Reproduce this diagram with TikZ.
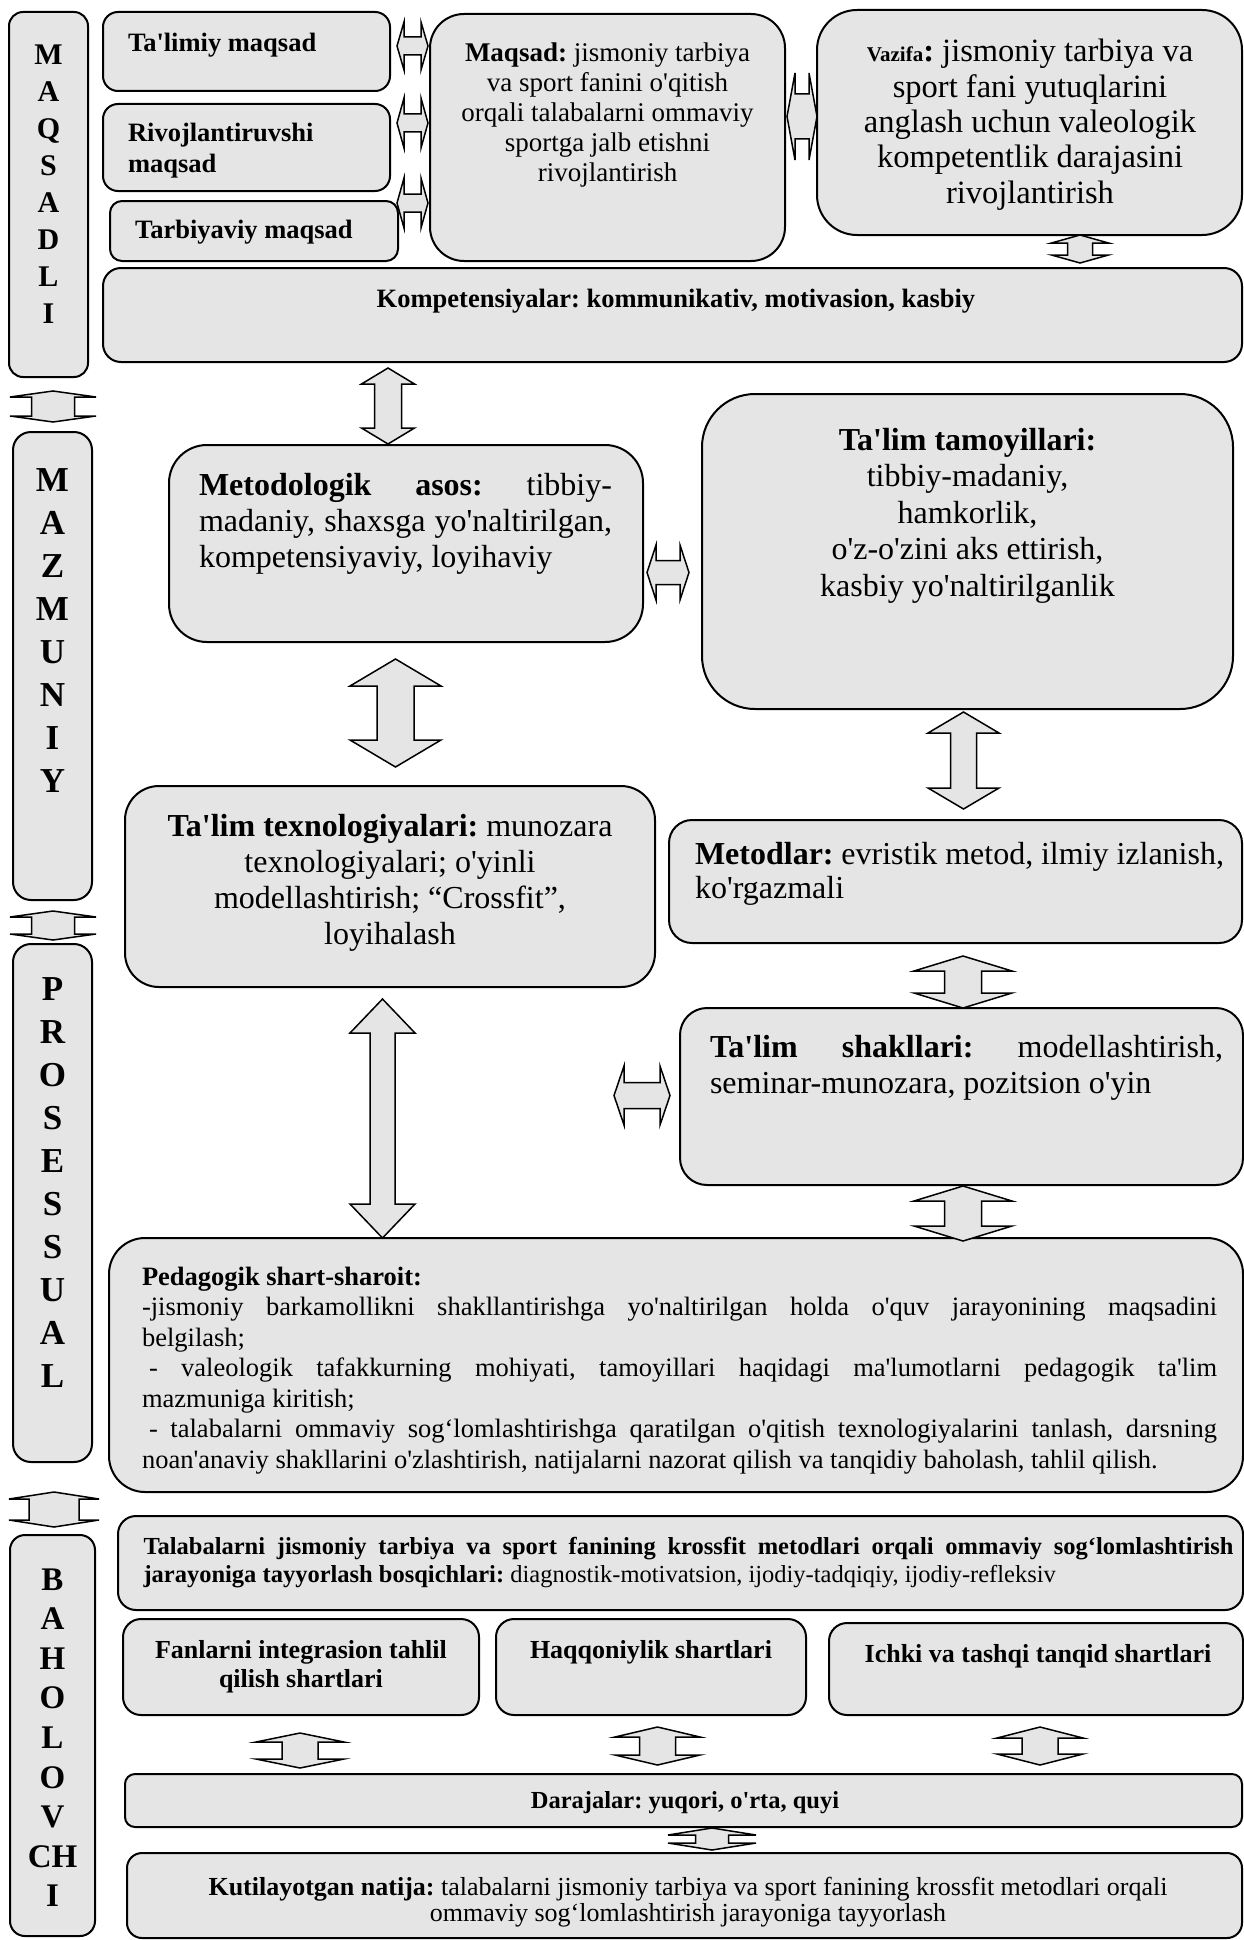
\documentclass[tikz,border=0pt]{standalone}
\usepackage{fontspec}
\newfontfamily\tnr{Liberation Serif}
\definecolor{boxgray}{RGB}{229,229,229}
\newcommand\setfs[2]{\tnr\fontsize{#1}{#2}\selectfont}
\newcommand\nsp{\spaceskip=0pt\xspaceskip=0pt\frenchspacing}
\newcommand\csp{\spaceskip=.25em\relax\xspaceskip=0pt\frenchspacing}
\newcommand\jline[2]{\makebox[#1pt][s]{\nsp #2}}
\newcommand\mybox[6]{\node[box, rounded corners=#6pt, minimum width={#4-#2}, minimum height={#5-#3}, anchor=north west] (#1) at (#2,#3) {};}
% vertical double block arrow: cx, ytop, ybot, head half width, shaft half width, head length
\newcommand\varr[6]{\draw[barrow] ({#1},{#2}) -- ({#1+#4},{#2+#6}) -- ({#1+#5},{#2+#6}) -- ({#1+#5},{#3-#6}) -- ({#1+#4},{#3-#6}) -- ({#1},{#3}) -- ({#1-#4},{#3-#6}) -- ({#1-#5},{#3-#6}) -- ({#1-#5},{#2+#6}) -- ({#1-#4},{#2+#6}) -- cycle;}
% horizontal double block arrow: cy, xleft, xright, head half height, shaft half height, head length
\newcommand\harr[6]{\draw[barrow] ({#2},{#1}) -- ({#2+#6},{#1-#4}) -- ({#2+#6},{#1-#5}) -- ({#3-#6},{#1-#5}) -- ({#3-#6},{#1-#4}) -- ({#3},{#1}) -- ({#3-#6},{#1+#4}) -- ({#3-#6},{#1+#5}) -- ({#2+#6},{#1+#5}) -- ({#2+#6},{#1+#4}) -- cycle;}
\tikzset{
  box/.style={draw=black, line width=2pt, fill=boxgray, inner sep=0pt, outer sep=0pt},
  barrow/.style={draw=black, line width=1.5pt, fill=boxgray, line join=miter},
  txt/.style={inner sep=0pt, outer sep=0pt},
}
\begin{document}
\frenchspacing
\begin{tikzpicture}[x=1pt, y=-1pt]
\useasboundingbox (0,0) rectangle (1244,1940);
% side boxes
\mybox{maqsadli}{9}{12}{88}{377}{14}
\mybox{mazmuniy}{13}{432}{92}{900}{18}
\mybox{prosessual}{13}{944}{92}{1462}{18}
\mybox{baholovchi}{10}{1535}{95}{1936}{15}
% top section
\mybox{talimiy}{103}{12}{390}{91}{15}
\mybox{rivoj}{103}{104}{390}{191}{15}
\mybox{tarbiya}{110}{201}{398}{261}{12}
\mybox{maqsad}{430}{14}{785}{261}{34}
\mybox{vazifa}{817}{10}{1242}{235}{40}
\mybox{komp}{103}{268}{1242}{362}{18}
% middle
\mybox{metodol}{169}{445}{643}{642}{38}
\mybox{tamoy}{702}{394}{1233}{709}{53}
\mybox{texno}{125}{786}{655}{987}{34}
\mybox{metodlar}{669}{820}{1242}{943}{23}
\mybox{shakl}{680}{1008}{1243}{1185}{27}
\mybox{pedag}{109}{1238}{1243}{1492}{36}
% bottom
\mybox{talab}{118}{1516}{1243}{1610}{18}
\mybox{fanlar}{123}{1619}{479}{1715}{18}
\mybox{haqq}{496}{1619}{806}{1715}{18}
\mybox{ichki}{829}{1623}{1243}{1715}{18}
\mybox{daraja}{125}{1774}{1242}{1827}{10}
\mybox{kutil}{127}{1853}{1242}{1938}{15}

% side texts
\node[txt, anchor=base, text width=60pt, align=center, font=\setfs{30}{37}\bfseries] (maqsadli-t) at (48.5,65) {M\\A\\Q\\S\\A\\D\\L\\I};
\node[txt, anchor=base, text width=70pt, align=center, font=\setfs{35}{43}\bfseries] (mazmuniy-t) at (52.5,491) {M\\A\\Z\\M\\U\\N\\I\\Y};
\node[txt, anchor=base, text width=70pt, align=center, font=\setfs{35}{43}\bfseries] (prosessual-t) at (52.5,1000) {P\\R\\O\\S\\E\\S\\S\\U\\A\\L};
\node[txt, anchor=base, text width=70pt, align=center, font=\setfs{33}{39.6}\bfseries] (baholovchi-t) at (52.5,1590) {B\\A\\H\\O\\L\\O\\V\\CH\\I};

% top texts
\node[txt, anchor=base west, font=\setfs{26.5}{31}\bfseries] (talimiy-t) at (128,52) {\csp Ta'limiy maqsad};
\node[txt, anchor=base west, text width=250pt, align=left, font=\setfs{26.5}{31}\bfseries] (rivoj-t) at (128,142) {\csp Rivojlantiruvshi\\maqsad};
\node[txt, anchor=base west, font=\setfs{26.5}{31}\bfseries] (tarbiya-t) at (135,238) {\csp Tarbiyaviy maqsad};
\node[txt, anchor=base, text width=350pt, align=center, font=\setfs{27}{30}] (maqsad-t) at (607.5,62) {\csp\textbf{Maqsad:} jismoniy tarbiya\\va sport fanini o'qitish\\orqali talabalarni ommaviy\\sportga jalb etishni\\rivojlantirish};
\node[txt, anchor=base, text width=420pt, align=center, font=\setfs{32.5}{35.3}] (vazifa-t) at (1030,62) {\csp{\setfs{21}{35.3}\bfseries Vazifa}{\bfseries :} jismoniy tarbiya va\\sport fani yutuqlarini\\anglash uchun valeologik\\kompetentlik darajasini\\rivojlantirish};
\node[txt, anchor=base, font=\setfs{26.5}{30}\bfseries] (komp-t) at (676,307) {\csp Kompetensiyalar: kommunikativ, motivasion, kasbiy};

% middle texts
\node[txt, anchor=base west, text width=413pt, align=left, font=\setfs{32}{36}] (metodol-t) at (199,495) {\csp\jline{413}{\textbf{Metodologik asos:} tibbiy-}\\\jline{413}{madaniy, shaxsga yo'naltirilgan,}\\kompetensiyaviy, loyihaviy};
\node[txt, anchor=base, text width=520pt, align=center, font=\setfs{32}{36.5}] (tamoy-t) at (967.5,450) {\csp\textbf{Ta'lim tamoyillari:}\\tibbiy-madaniy,\\hamkorlik,\\o'z-o'zini aks ettirish,\\kasbiy yo'naltirilganlik};
\node[txt, anchor=base, text width=520pt, align=center, font=\setfs{32}{36}] (texno-t) at (390,836) {\csp\textbf{Ta'lim texnologiyalari:} munozara\\texnologiyalari; o'yinli\\modellashtirish; “Crossfit”,\\loyihalash};
\node[txt, anchor=base west, text width=529pt, align=left, font=\setfs{32}{34}] (metodlar-t) at (695,864) {\csp\jline{529}{\textbf{Metodlar:} evristik metod, ilmiy izlanish,}\\ko'rgazmali};
\node[txt, anchor=base west, text width=513pt, align=left, font=\setfs{32}{36}] (shakl-t) at (710,1057) {\csp\jline{513}{\textbf{Ta'lim shakllari:} modellashtirish,}\\seminar-munozara, pozitsion o'yin};
\node[txt, anchor=base west, text width=1075pt, align=left, font=\setfs{26.5}{30.5}] (pedag-t) at (142,1285) {\csp\textbf{Pedagogik shart-sharoit:}\\
\jline{1075}{-jismoniy barkamollikni shakllantirishga yo'naltirilgan holda o'quv jarayonining maqsadini}\\
belgilash;\\
\jline{1075}{\hspace*{7pt}- valeologik tafakkurning mohiyati, tamoyillari haqidagi ma'lumotlarni pedagogik ta'lim}\\
mazmuniga kiritish;\\
\jline{1075}{\hspace*{7pt}- talabalarni ommaviy sog‘lomlashtirishga qaratilgan o'qitish texnologiyalarini tanlash, darsning}\\
noan'anaviy shakllarini o'zlashtirish, natijalarni nazorat qilish va tanqidiy baholash, tahlil qilish.};

% bottom texts
\node[txt, anchor=base west, text width=1090pt, align=left, font=\setfs{24.5}{28}] (talab-t) at (143.5,1554) {\csp\jline{1090}{\bfseries Talabalarni jismoniy tarbiya va sport fanining krossfit metodlari orqali ommaviy sog‘lomlashtirish}\\\textbf{jarayoniga tayyorlash bosqichlari:} diagnostik-motivatsion, ijodiy-tadqiqiy, ijodiy-refleksiv};
\node[txt, anchor=base, text width=340pt, align=center, font=\setfs{26}{29}\bfseries] (fanlar-t) at (301,1658) {\csp Fanlarni integrasion tahlil\\qilish shartlari};
\node[txt, anchor=base, font=\setfs{26}{29}\bfseries] (haqq-t) at (651,1658) {\csp Haqqoniylik shartlari};
\node[txt, anchor=base, font=\setfs{26}{29}\bfseries] (ichki-t) at (1038,1662) {\csp Ichki va tashqi tanqid shartlari};
\node[txt, anchor=base, font=\setfs{24.5}{28}\bfseries] (daraja-t) at (685,1808) {\csp Darajalar: yuqori, o'rta, quyi};
\node[txt, anchor=base, text width=1100pt, align=center, font=\setfs{26}{26}] (kutil-t) at (688,1895) {\csp\textbf{Kutilayotgan natija:} talabalarni jismoniy tarbiya va sport fanining krossfit metodlari orqali\\ommaviy sog‘lomlashtirish jarayoniga tayyorlash};

% block arrows
\varr{53}{391}{422}{43}{21.5}{6}
\varr{53}{911}{940}{43}{21.5}{6}
\varr{54}{1492}{1527}{45}{25}{7}
\varr{388}{368}{444}{26.5}{13.5}{16}
\varr{395.5}{659}{767}{45.5}{18.5}{27}
\varr{382.5}{999}{1238}{32.5}{12.5}{34}
\varr{1080}{235}{263}{28.5}{12.5}{8}
\varr{963.5}{712}{809}{35.5}{13}{21}
\varr{963}{956}{1008}{49}{18.5}{15}
\varr{963}{1186}{1241}{49}{18.5}{15}
\varr{300}{1733}{1768}{44}{18}{9}
\varr{657.5}{1727}{1765}{42.5}{18}{10}
\varr{1040}{1727}{1765}{43}{18}{11}
\varr{712}{1828}{1850}{44}{16.5}{7}
\harr{46}{397}{428}{24}{9}{7}
\harr{123}{397}{428}{25}{9}{7}
\harr{203}{397}{428}{25}{9}{7}
\harr{116.5}{787}{817}{43.5}{22.5}{8}
\harr{572.5}{647}{689}{27.5}{12}{9}
\harr{1095.5}{614}{670}{29.5}{13}{10}
\end{tikzpicture}
\end{document}
